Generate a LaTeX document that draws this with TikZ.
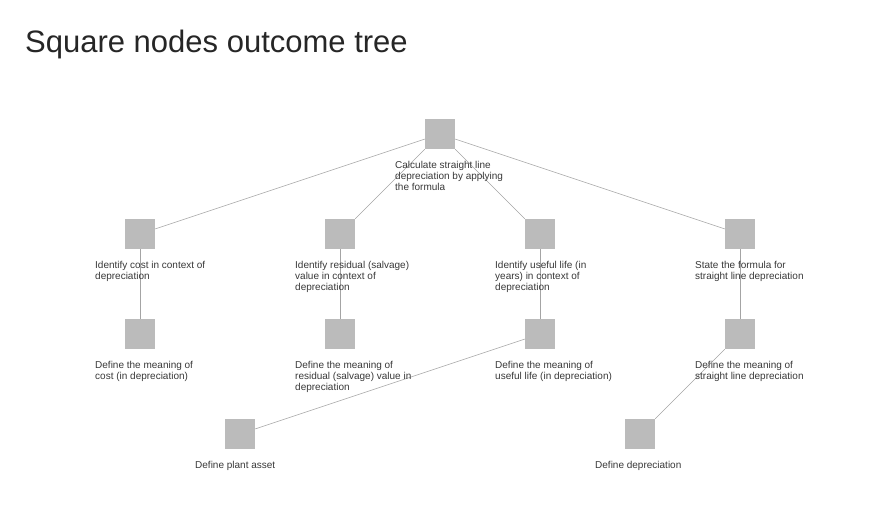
\documentclass[tikz,border=0pt]{standalone}
\usepackage{fontspec}
\setmainfont{Liberation Sans}
\usepackage{xcolor}
\definecolor{boxgray}{HTML}{BBBBBB}
\definecolor{linegray}{HTML}{A4A4A4}
\definecolor{txtgray}{HTML}{383838}

\begin{document}
\begin{tikzpicture}[x=1pt,y=-1pt,
        box/.style={fill=boxgray,minimum size=30pt,inner sep=0pt},
        edge/.style={draw=linegray,line width=0.6pt},
        txt/.style={anchor=north west,align=left,inner sep=0pt,text=txtgray,font=\fontsize{10}{11}\selectfont}]
                \useasboundingbox (0,0) rectangle (873,525);
                \node[anchor=base west,inner sep=0pt,text=black!85,font=\fontsize{31}{36}\selectfont] (title) at (25,52) {Square nodes outcome tree};

                \node[box] (calc) at (440,134) {};
                \node[box] (cost) at (140,234) {};
                \node[box] (resid) at (340,234) {};
                \node[box] (life) at (540,234) {};
                \node[box] (formula) at (740,234) {};
                \node[box] (costdef) at (140,334) {};
                \node[box] (residdef) at (340,334) {};
                \node[box] (lifedef) at (540,334) {};
                \node[box] (sldef) at (740,334) {};
                \node[box] (asset) at (240,434) {};
                \node[box] (depr) at (640,434) {};

                \draw[edge] (calc) -- (cost);
                \draw[edge] (calc) -- (resid);
                \draw[edge] (calc) -- (life);
                \draw[edge] (calc) -- (formula);
                \draw[edge] (cost) -- (costdef);
                \draw[edge] (resid) -- (residdef);
                \draw[edge] (life) -- (lifedef);
                \draw[edge] (formula) -- (sldef);
                \draw[edge] (lifedef) -- (asset);
                \draw[edge] (sldef) -- (depr);

                \node[txt] (calc-t) at (395,160.7) {Calculate straight line\\depreciation by applying\\the formula};
                \node[txt] (cost-t) at (95,260.7) {Identify cost in context of\\depreciation};
                \node[txt] (resid-t) at (295,260.7) {Identify residual (salvage)\\value in context of\\depreciation};
                \node[txt] (life-t) at (495,260.7) {Identify useful life (in\\years) in context of\\depreciation};
                \node[txt] (formula-t) at (695,260.7) {State the formula for\\straight line depreciation};
                \node[txt] (costdef-t) at (95,360.7) {Define the meaning of\\cost (in depreciation)};
                \node[txt] (residdef-t) at (295,360.7) {Define the meaning of\\residual (salvage) value in\\depreciation};
                \node[txt] (lifedef-t) at (495,360.7) {Define the meaning of\\useful life (in depreciation)};
                \node[txt] (sldef-t) at (695,360.7) {Define the meaning of\\straight line depreciation};
                \node[txt] (asset-t) at (195,460.7) {Define plant asset};
                \node[txt] (depr-t) at (595,460.7) {Define depreciation};
            \end{tikzpicture}
\end{document}
